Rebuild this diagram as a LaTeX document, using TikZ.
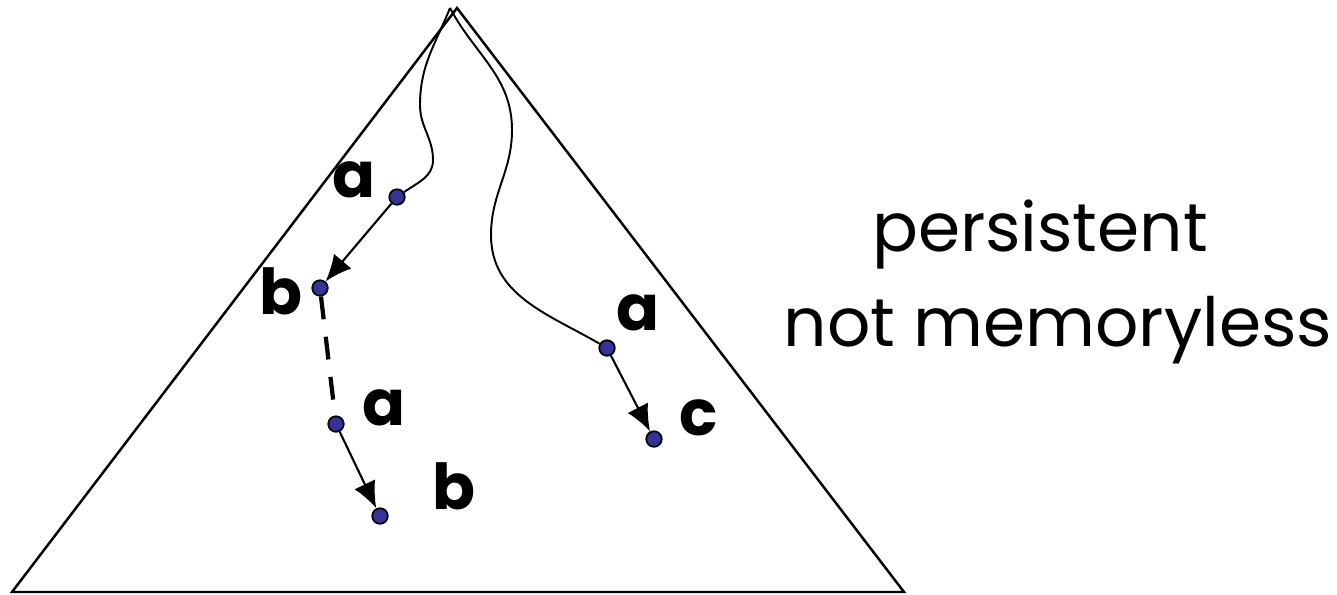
\documentclass[tikz,border=0pt]{standalone}
\usepackage{fontspec}
\setmainfont{Poppins}
\usetikzlibrary{arrows.meta}
\definecolor{dotblue}{RGB}{51,51,153}

\begin{document}
\begin{tikzpicture}[
		x=0.01cm, y=-0.01cm,
		dot/.style={
			circle, draw, line width=0.5pt, fill=dotblue,
			minimum size=0.155cm, inner sep=0pt,
		},
		lbl/.style={font=\fontsize{18}{22}\selectfont\bfseries, anchor=base, inner sep=0pt},
		note/.style={font=\fontsize{19.3}{23}\selectfont, anchor=base, inner sep=0pt},
		arrow/.style={-{Latex[length=7.5pt,width=6.5pt]}, line width=0.6pt},
		trail/.style={line width=0.55pt},
		jump/.style={line width=1.2pt, dash pattern=on 6.5pt off 5pt},
		]
		\useasboundingbox (0,0) rectangle (1337,594);
		
		% the tree
		\coordinate (apex)  at (457,8);
		\coordinate (left)  at (12,592);
		\coordinate (right) at (904,592);
		\draw[line width=0.7pt] (apex) -- (left) -- (right) -- cycle;
		
		\coordinate (root) at (450,8);
		
		\node[dot] (a1) at (397,197) {};
		\node[dot] (b1) at (320,288) {};
		\node[dot] (a2) at (336,424) {};
		\node[dot] (b2) at (380,516) {};
		\node[dot] (a3) at (607,348) {};
		\node[dot] (c1) at (654,439) {};
		
		\node[lbl] (la1) at (354,197) {a};
		\node[lbl] (lb1) at (281,314) {b};
		\node[lbl] (la2) at (384,425) {a};
		\node[lbl] (lb2) at (454,509) {b};
		\node[lbl] (la3) at (638,330) {a};
		\node[lbl] (lc1) at (699,435) {c};
		
		\node[note] (persist) at (1040,251) {persistent};
		\node[note] (memory)  at (1058,346) {not memoryless};
		
		\draw[trail] (root) to[out=-112,in=90] (420,105) to[out=-90,in=90] (433,160)
		to[out=-90,in=35] (a1);
		\draw[trail] (root) to[out=-62,in=90] (512,130) to[out=-90,in=90] (491,235)
		to[out=-90,in=150] (a3);
		
		\draw[arrow] (a1) -- (b1);
		\draw[jump]  (b1) -- (a2);
		\draw[arrow] (a2) -- (b2);
		\draw[arrow] (a3) -- (c1);
		
	\end{tikzpicture}
\end{document}
